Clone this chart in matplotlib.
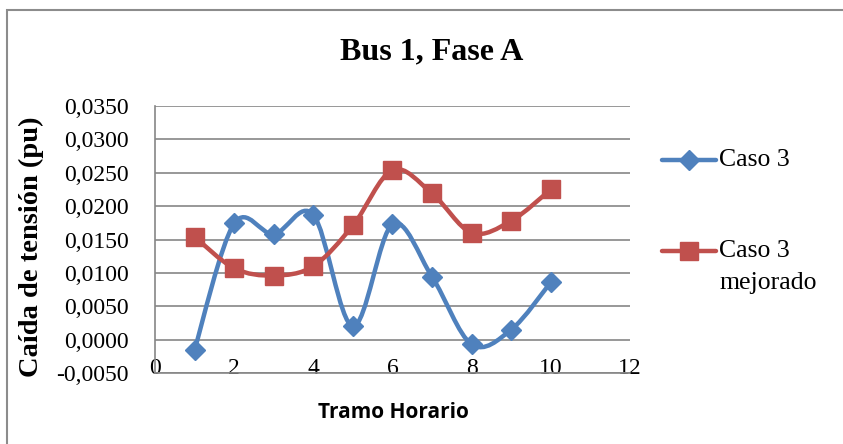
import numpy as np
import matplotlib
matplotlib.use("Agg")
import matplotlib.pyplot as plt
from matplotlib.path import Path
from matplotlib.patches import PathPatch, Rectangle
from matplotlib.lines import Line2D
from matplotlib.ticker import FuncFormatter, MultipleLocator

# data
tramo = [1, 2, 3, 4, 5, 6, 7, 8, 9, 10]
caso3 = [-0.0015, 0.0174, 0.0158, 0.0187, 0.0020, 0.0173, 0.0094, -0.0007, 0.0015, 0.0086]
caso3_mejorado = [0.0154, 0.0107, 0.0096, 0.0110, 0.0171, 0.0254, 0.0219, 0.0160, 0.0178, 0.0225]

BLUE = "#4F81BD"
RED = "#C0504D"
SERIF = "Liberation Serif"
D_SIZE = 10.5
S_SIZE = 13.5


def smooth_path(x, y):
  """Excel style smoothed line: Catmull-Rom through the points as cubic Beziers."""
  pts = np.column_stack([x, y]).astype(float)
  ext = np.vstack([pts[0], pts, pts[-1]])
  verts = [pts[0]]
  codes = [Path.MOVETO]
  for i in range(1, len(ext) - 2):
    p0, p1, p2, p3 = ext[i - 1], ext[i], ext[i + 1], ext[i + 2]
    verts += [p1 + (p2 - p0) / 6, p2 - (p3 - p1) / 6, p2]
    codes += [Path.CURVE4] * 3
  return Path(verts, codes)


fig = plt.figure(figsize=(8.43, 4.44), dpi=100)
ax = fig.add_axes([155 / 843, 1 - 373 / 444, 475 / 843, 267 / 444])

for ys, color, marker, ms in [(caso3, BLUE, "D", D_SIZE), (caso3_mejorado, RED, "s", S_SIZE)]:
  ax.add_patch(PathPatch(smooth_path(tramo, ys), facecolor="none", edgecolor=color,
                         lw=3.2, capstyle="round", joinstyle="round", zorder=3))
  ax.plot(tramo, ys, linestyle="none", marker=marker, ms=ms, color=color, zorder=4)

ax.set_xlim(0, 12)
ax.set_ylim(-0.005, 0.035)
ax.xaxis.set_major_locator(MultipleLocator(2))
ax.yaxis.set_major_locator(MultipleLocator(0.005))
ax.yaxis.set_major_formatter(FuncFormatter(lambda v, p: f"{v:.4f}".replace(".", ",")))
ax.grid(axis="y", color="#868686", lw=1.2)
ax.set_axisbelow(True)
for s in ["top", "right"]:
  ax.spines[s].set_visible(False)
for s in ["left", "bottom"]:
  ax.spines[s].set_color("#868686")
  ax.spines[s].set_linewidth(1.2)
ax.tick_params(axis="y", length=0, labelsize=17, pad=19)
ax.tick_params(axis="x", length=0, labelsize=17, pad=-11)
for lab in ax.get_xticklabels() + ax.get_yticklabels():
  lab.set_fontfamily(SERIF)

fig.text(393 / 843, 1 - 412 / 444, "Tramo Horario", fontfamily="Open Sans", fontweight="bold",
         fontsize=15, ha="center", va="center")
fig.text(31 / 843, 1 - 247 / 444, "Caída de tensión (pu)", fontfamily=SERIF, fontweight="bold",
         fontsize=20.5, ha="center", va="center", rotation=90)
fig.text(432 / 843, 1 - 52 / 444, "Bus 1, Fase A", fontfamily=SERIF, fontweight="bold",
         fontsize=23, ha="center", va="center")

# legend drawn in figure coordinates
for yc, color, marker, ms in [(160, BLUE, "D", D_SIZE), (251, RED, "s", S_SIZE)]:
  yf = 1 - yc / 444
  fig.add_artist(Line2D([662 / 843, 716 / 843], [yf, yf], color=color, lw=3.2,
                        solid_capstyle="round", transform=fig.transFigure))
  fig.add_artist(Line2D([689 / 843], [yf], marker=marker, ms=ms, color=color,
                        transform=fig.transFigure))
fig.text(719 / 843, 1 - 160 / 444, "Caso 3", fontfamily=SERIF, fontsize=18.5, va="center")
fig.text(719 / 843, 1 - 251 / 444, "Caso 3", fontfamily=SERIF, fontsize=18.5, va="center")
fig.text(719 / 843, 1 - 283 / 444, "mejorado", fontfamily=SERIF, fontsize=18.5, va="center")

# chart frame
fig.add_artist(Rectangle((7 / 843, -0.1), 1.2, 1.1 - 10 / 444, transform=fig.transFigure,
                         facecolor="none", edgecolor="#8c8c8c", lw=1.5))

fig.savefig("out.png", dpi=100)
